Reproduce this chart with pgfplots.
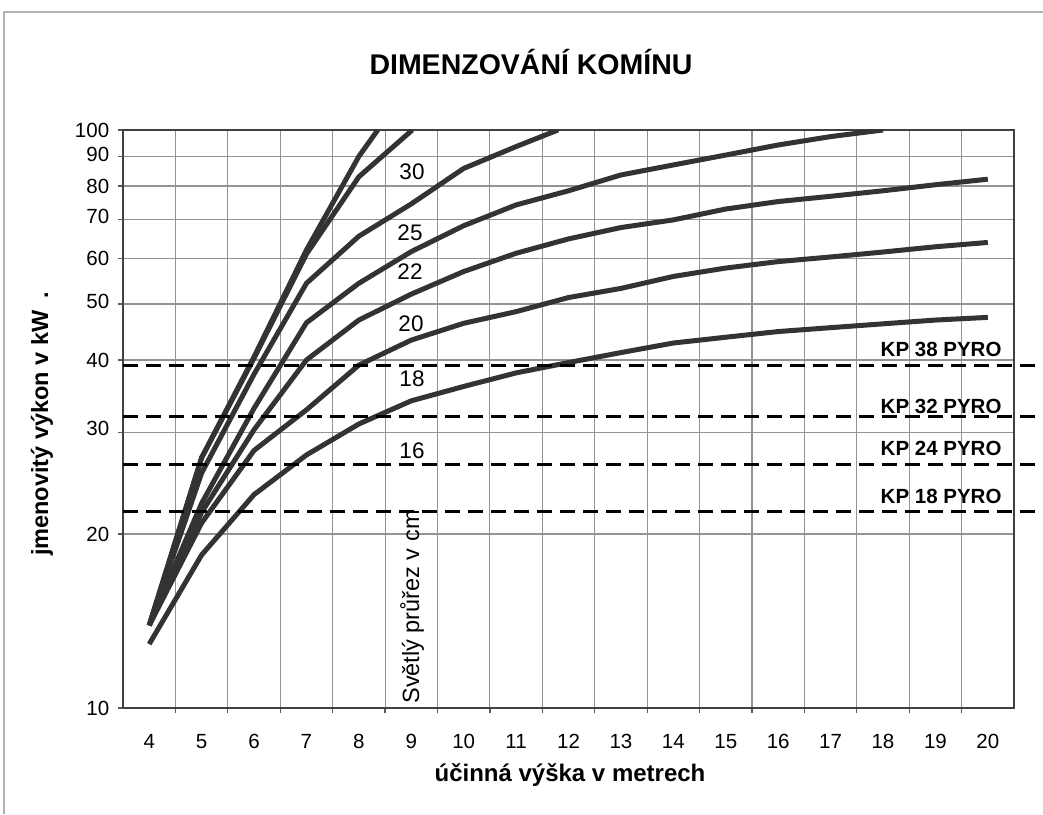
\documentclass[border=0pt]{standalone}
\usepackage{pgfplots}
\pgfplotsset{compat=1.18}
\usepackage{fontspec}
\setmainfont{Liberation Sans}
\newcommand{\pxy}[2]{({(#1-123)*0.4pt},{(708-#2)*0.4pt})}
\definecolor{curve}{HTML}{333333}
\begin{document}
\begin{tikzpicture}
\begin{axis}[
  at={(0,0)}, anchor=south west,
  scale only axis, width=356.4pt, height=231.2pt,
  xmin=3.5, xmax=20.5,
  ymode=log, ymin=10, ymax=100,
  ytick={10,20,30,40,50,60,70,80,90,100},
  yticklabels={10,20,\raisebox{2.8pt}{30},\raisebox{-1.6pt}{40},\raisebox{2pt}{50},\raisebox{-1.4pt}{60},\raisebox{2.6pt}{70},80,\raisebox{2pt}{90},\raisebox{-0.6pt}{100}},
  yminorticks=false,
  xtick={4.5,5.5,6.5,7.5,8.5,9.5,10.5,11.5,12.5,13.5,14.5,15.5,16.5,17.5,18.5,19.5},
  xticklabels={},
  extra x ticks={4,5,6,7,8,9,10,11,12,13,14,15,16,17,18,19,20},
  extra x tick labels={4,5,6,7,8,9,10,11,12,13,14,15,16,17,18,19,20},
  extra x tick style={major tick length=0pt, grid=none},
  grid=major,
  grid style={gray!85, line width=0.45pt},
  tick pos=left, tick align=outside,
  major tick length=2pt,
  tick style={gray!70!black, line width=0.5pt},
  axis line style={draw=black!75, line width=1pt},
  tick label style={font=\fontsize{8.2}{9}\selectfont},
  xticklabel style={yshift=-7pt},
  clip mode=individual,
  every axis plot post/.append style={line width=2pt, color=curve, solid, mark=none, line join=round},
]
% curve A
\addplot coordinates {(4,13.9) (5,27.1) (6,40.5) (7,62) (8,90) (8.36,100)};
% curve B
\addplot coordinates {(4,13.9) (5,27.1) (6,40.3) (7,61) (8,83) (9.02,100)};
% curve C
\addplot coordinates {(4,13.9) (5,25.5) (6,37.8) (7,54.3) (8,65.5) (9,74.5) (10,85.8) (11,93.6) (11.8,100)};
% curve D
\addplot coordinates {(4,13.9) (5,22.6) (6,33) (7,46.4) (8,54.3) (9,61.6) (10,68.3) (11,74.2) (12,78.5) (13,83.6) (14,87) (15,90.5) (16,94.2) (17,97.4) (18,100)};
% curve E
\addplot coordinates {(4,13.9) (5,21.8) (6,30.3) (7,40) (8,46.9) (9,52) (10,56.9) (11,61.2) (12,64.8) (13,67.8) (14,69.9) (15,73) (16,75.2) (17,76.8) (18,78.5) (19,80.4) (20,82.2)};
% curve F
\addplot coordinates {(4,13.9) (5,20.9) (6,27.9) (7,32.8) (8,39.2) (9,43.3) (10,46.3) (11,48.5) (12,51.3) (13,53.2) (14,55.8) (15,57.7) (16,59.2) (17,60.3) (18,61.5) (19,62.8) (20,63.9)};
% curve G
\addplot coordinates {(4,12.9) (5,18.4) (6,23.4) (7,27.4) (8,31) (9,34) (10,36) (11,38) (12,39.6) (13,41.2) (14,42.8) (15,43.8) (16,44.8) (17,45.5) (18,46.2) (19,46.9) (20,47.4)};
% boiler lines
\foreach \v in {39.2,31.9,26.4,21.9}{
  \edef\tmp{\noexpand\draw[black, line width=1.2pt, dash pattern=on 6pt off 3.2pt] (axis cs:3.5,\v) -- (axis cs:21.2,\v);}
  \tmp
}
\end{axis}
% boiler labels
\begin{scope}[font=\fontsize{8.2}{9}\selectfont\bfseries]
\node[anchor=base east, inner sep=0pt] at \pxy{1002}{356} {KP 38 PYRO};
\node[anchor=base east, inner sep=0pt] at \pxy{1002}{413} {KP 32 PYRO};
\node[anchor=base east, inner sep=0pt] at \pxy{1002}{455} {KP 24 PYRO};
\node[anchor=base east, inner sep=0pt] at \pxy{1002}{503} {KP 18 PYRO};
\end{scope}
% curve labels
\begin{scope}[font=\fontsize{9}{10}\selectfont]
\node at \pxy{412}{172} {30};
\node at \pxy{410}{233} {25};
\node at \pxy{410}{272} {22};
\node at \pxy{411}{324} {20};
\node at \pxy{412}{379} {18};
\node at \pxy{412}{451} {16};
\node[rotate=90, font=\fontsize{9.4}{10}\selectfont] at \pxy{412}{607} {Světlý průřez v cm};
\end{scope}
% title and axis labels
\node[font=\fontsize{11.4}{13}\selectfont\bfseries] at \pxy{531}{62} {DIMENZOVÁNÍ KOMÍNU};
\node[font=\fontsize{9.6}{11}\selectfont\bfseries] at \pxy{570}{775} {účinná výška v metrech};
\node[font=\fontsize{9.4}{11}\selectfont\bfseries, rotate=90] at \pxy{42}{424} {jmenovitý výkon v kW\enspace.};
% outer frame (top and left edges)
\draw[gray!60, line width=0.5pt] \pxy{4}{814} -- \pxy{4}{12} -- \pxy{1043}{12};
\pgfresetboundingbox
\path[use as bounding box] \pxy{0}{814} rectangle \pxy{1043}{0};
\end{tikzpicture}
\end{document}
